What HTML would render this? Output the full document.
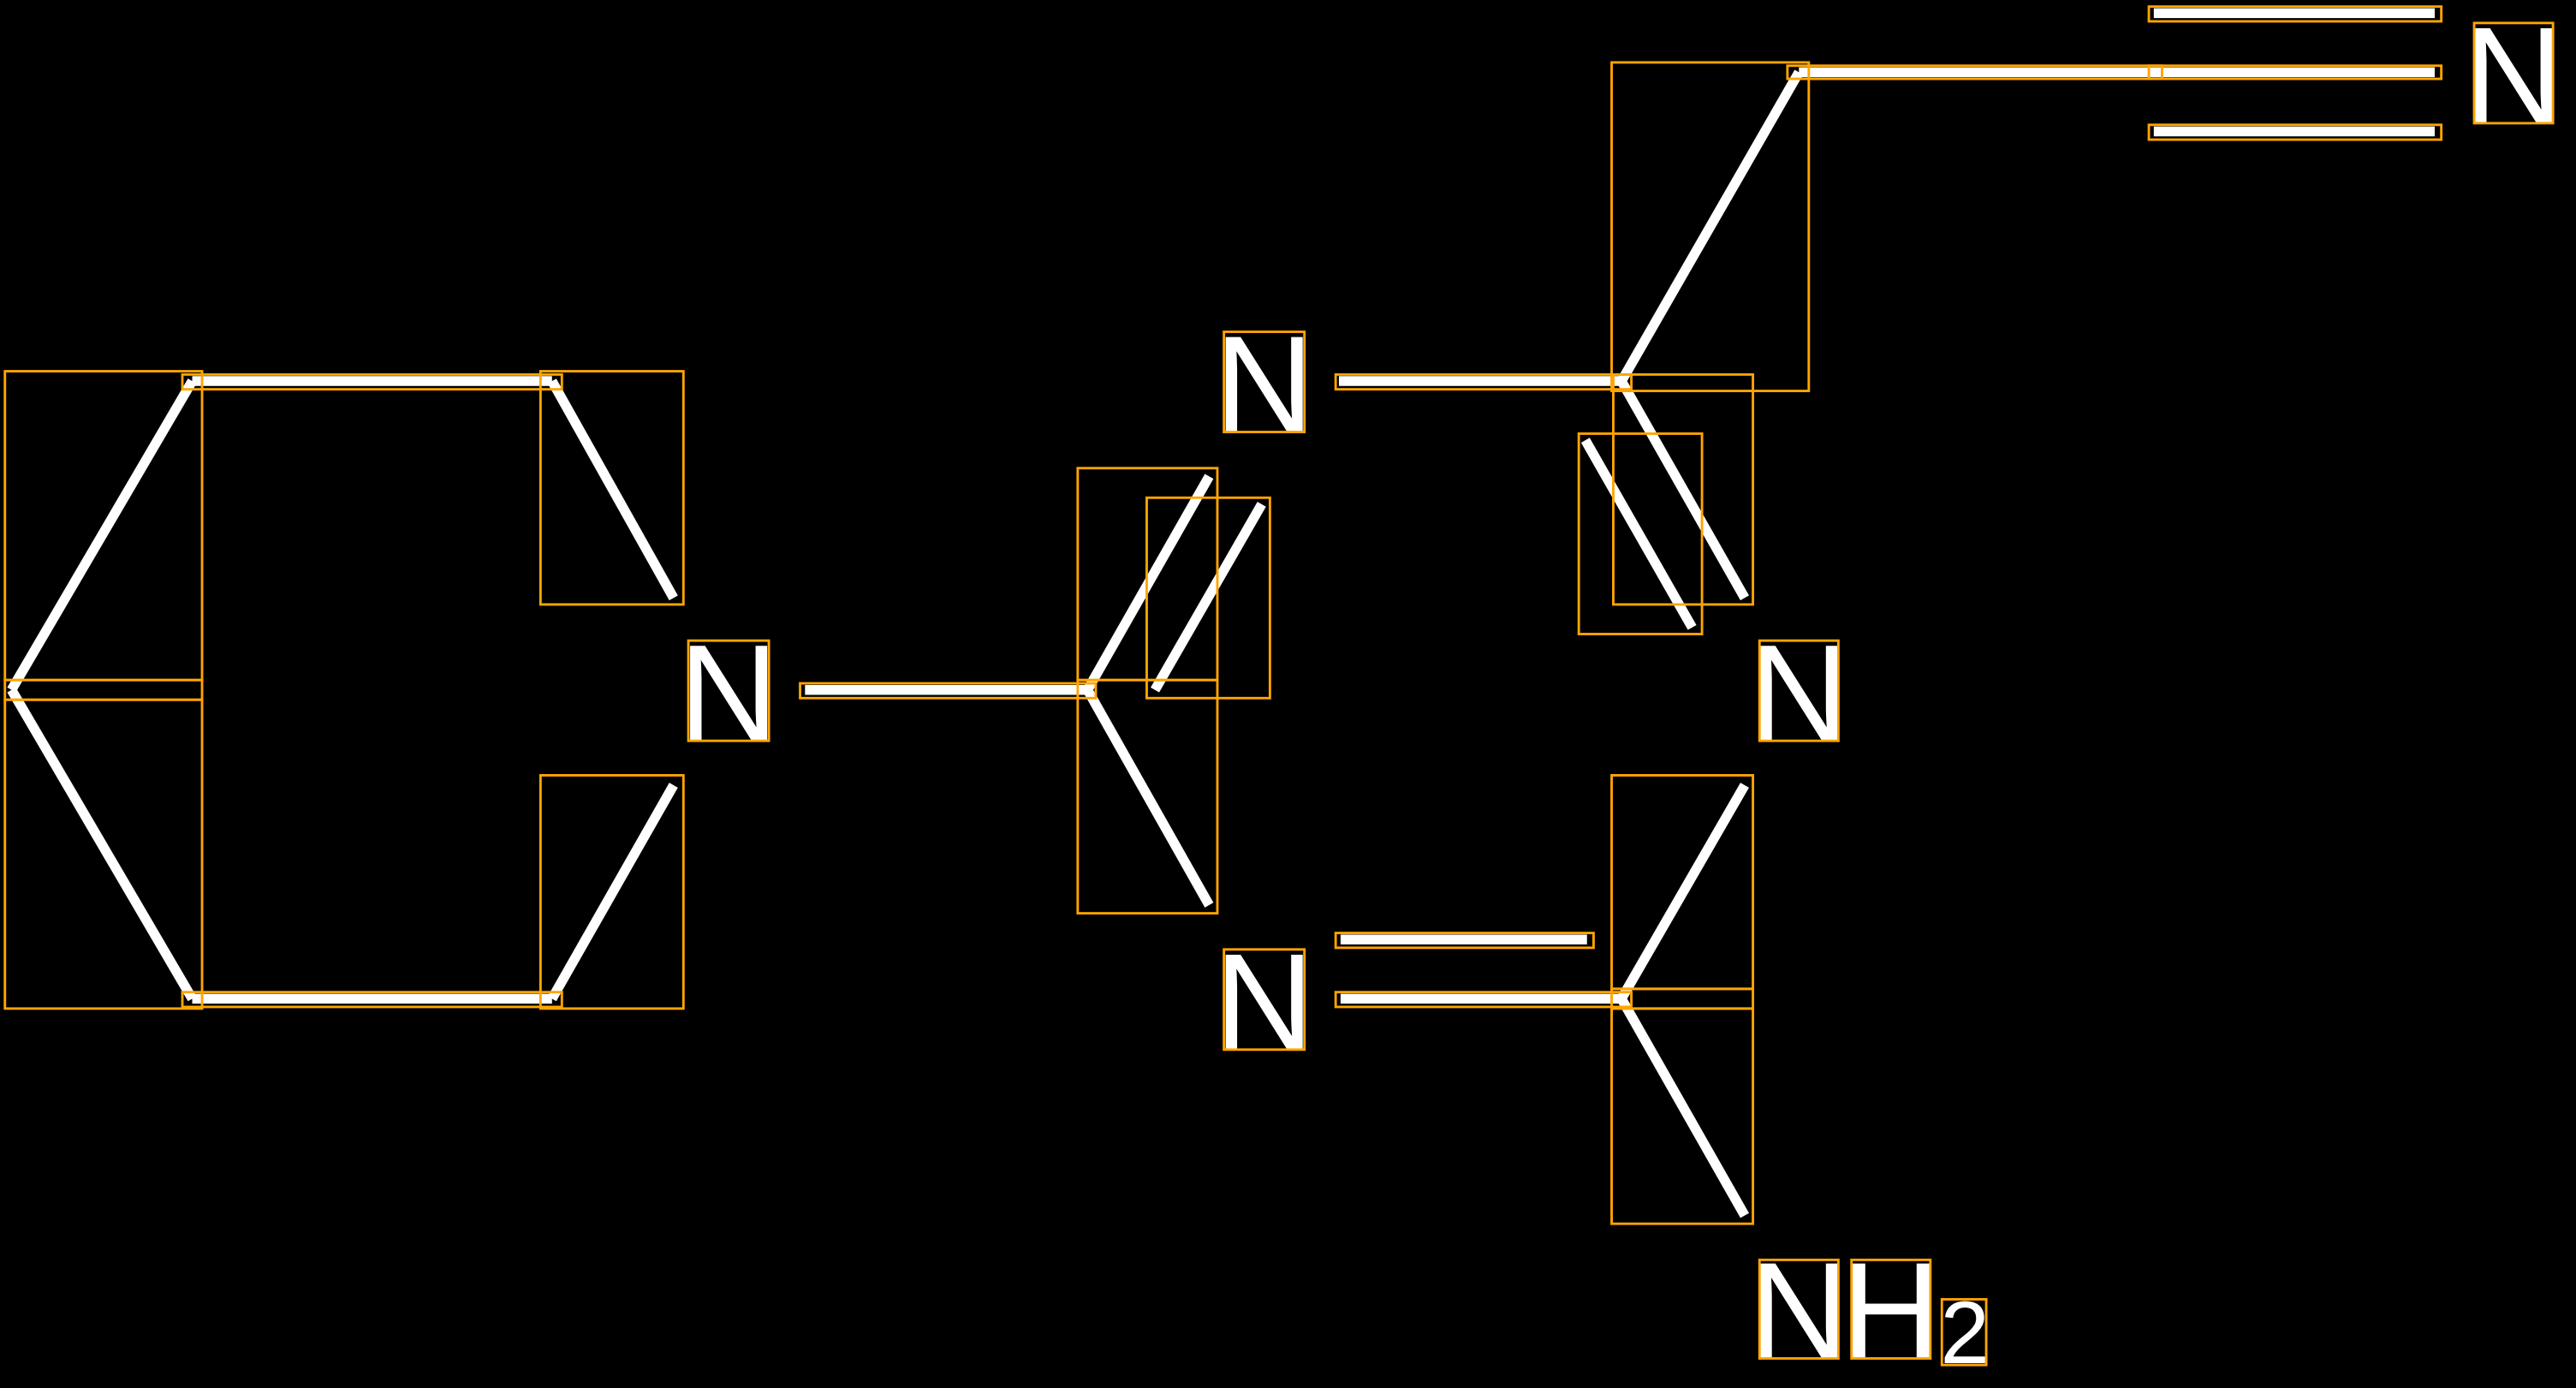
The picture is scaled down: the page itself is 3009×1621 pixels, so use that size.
<!DOCTYPE html>
<html><head><meta charset="utf-8"><style>
html,body{margin:0;padding:0;background:#000;overflow:hidden}
svg{display:block}
</style></head><body>
<svg width="3009" height="1621" viewBox="0 0 1568 845" preserveAspectRatio="none" xmlns="http://www.w3.org/2000/svg">
<rect width="1568" height="845" fill="#000"/>
<g stroke="#fff" stroke-width="6" stroke-linecap="butt" fill="none">
<line x1="117" y1="232" x2="336" y2="232"/>
<line x1="117" y1="232" x2="7" y2="420"/>
<line x1="7" y1="420" x2="117" y2="608"/>
<line x1="117" y1="608" x2="336" y2="608"/>
<line x1="336" y1="232" x2="410" y2="364"/>
<line x1="336" y1="608" x2="410" y2="478"/>
<line x1="490" y1="420" x2="662" y2="420"/>
<line x1="662" y1="420" x2="736" y2="290"/>
<line x1="703" y1="420" x2="768" y2="307"/>
<line x1="662" y1="420" x2="736" y2="551"/>
<line x1="815" y1="232" x2="987" y2="232"/>
<line x1="987" y1="232" x2="1095" y2="44"/>
<line x1="1095" y1="44" x2="1482" y2="44"/>
<line x1="1311" y1="8" x2="1482" y2="8"/>
<line x1="1311" y1="80" x2="1482" y2="80"/>
<line x1="987" y1="232" x2="1062" y2="364"/>
<line x1="965" y1="268" x2="1030" y2="382"/>
<line x1="816" y1="572" x2="966" y2="572"/>
<line x1="816" y1="608" x2="987" y2="608"/>
<line x1="987" y1="608" x2="1062" y2="478"/>
<line x1="987" y1="608" x2="1062" y2="740"/>
</g>
<g fill="#fff" font-family="Liberation Sans, sans-serif" font-size="84" text-anchor="middle">
<text x="443.5" y="451">N</text>
<text x="769.5" y="263">N</text>
<text x="1530" y="75">N</text>
<text x="1095" y="451">N</text>
<text x="769.5" y="639">N</text>
<text x="1095" y="827">N</text>
<text x="1151" y="827">H</text>
<text x="1196" y="830" font-size="54">2</text>
</g>
<g stroke="#ffa500" stroke-width="1.5" fill="none">
<rect x="111" y="228" width="231" height="9"/>
<rect x="3" y="226" width="120" height="188"/>
<rect x="3" y="414" width="120" height="12"/>
<rect x="3" y="426" width="120" height="188"/>
<rect x="111" y="604" width="231" height="9"/>
<rect x="329" y="226" width="87" height="142"/>
<rect x="329" y="472" width="87" height="142"/>
<rect x="419" y="390" width="49" height="61"/>
<rect x="487" y="416" width="180" height="9"/>
<rect x="656" y="285" width="85" height="129"/>
<rect x="698" y="303" width="75" height="122"/>
<rect x="656" y="414" width="85" height="142"/>
<rect x="745" y="202" width="49" height="61"/>
<rect x="813" y="228" width="180" height="9"/>
<rect x="981" y="38" width="120" height="200"/>
<rect x="1088" y="40" width="228" height="8"/>
<rect x="1308" y="40" width="178" height="8"/>
<rect x="1308" y="4" width="178" height="9"/>
<rect x="1308" y="76" width="178" height="9"/>
<rect x="1506" y="14" width="48" height="61"/>
<rect x="982" y="228" width="85" height="140"/>
<rect x="961" y="264" width="75" height="122"/>
<rect x="1071" y="390" width="48" height="61"/>
<rect x="745" y="578" width="49" height="61"/>
<rect x="813" y="568" width="157" height="9"/>
<rect x="813" y="604" width="180" height="9"/>
<rect x="981" y="472" width="86" height="130"/>
<rect x="981" y="602" width="86" height="12"/>
<rect x="981" y="614" width="86" height="131"/>
<rect x="1071" y="767" width="48" height="60"/>
<rect x="1127" y="767" width="48" height="60"/>
<rect x="1182" y="791" width="27" height="40"/>
</g>
</svg>
</body></html>
